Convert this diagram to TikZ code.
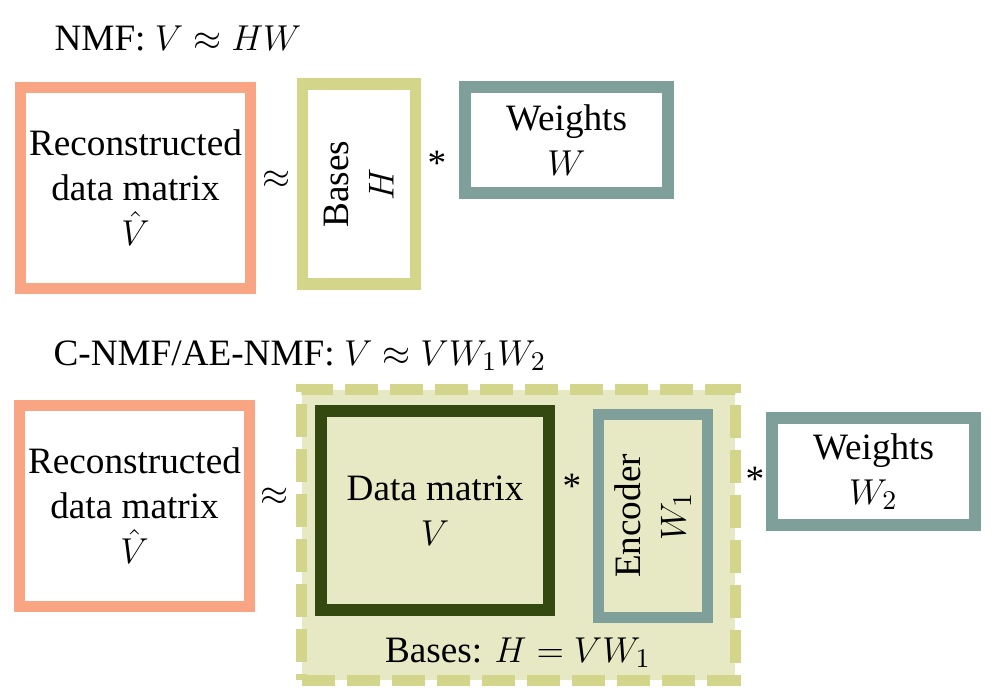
\documentclass[tikz,border=0pt]{standalone}
\usepackage{fontspec}
\setmainfont{LiberationSerif}[Extension=.ttf, UprightFont=*-Regular, BoldFont=*-Bold, ItalicFont=*-Italic]
\definecolor{salmon}{RGB}{249,164,130}
\definecolor{lime}{RGB}{211,214,138}
\definecolor{teal}{RGB}{127,160,154}
\definecolor{darkgreen}{RGB}{52,73,15}
\definecolor{lightfill}{RGB}{230,233,195}
\tikzset{
  mbox/.style={draw, line width=3.9pt, inner sep=0pt, align=center},
}
\begin{document}
\begin{tikzpicture}[x=0.3333pt,y=-0.3333pt,every node/.style={font=\fontsize{12.4}{15}\selectfont}]
\useasboundingbox (0,0) rectangle (993,695);

% NMF
\node[anchor=base west] (t1) at (44,50) {NMF: $V \approx HW$};
\node[mbox, draw=salmon, minimum width=76.67pt, minimum height=67pt] (rec1) at (135.5,188) {Reconstructed\\data matrix\\$\hat{V}$};
\node (ap1) at (277,180) {$\approx$};
\node[mbox, draw=lime, rotate=90, minimum width=66.5pt, minimum height=37.67pt] (bas) at (359,184) {Bases\\$H$};
\node (st1) at (437,163) {*};
\node[mbox, draw=teal, minimum width=67.67pt, minimum height=35.33pt] (wt1) at (566.5,140) {Weights\\$W$};

% C-NMF/AE-NMF
\node[anchor=base west] (t2) at (43,365) {C-NMF/AE-NMF: $V \approx VW_1W_2$};
\node[mbox, draw=salmon, minimum width=76.67pt, minimum height=67pt] (rec2) at (134.5,506) {Reconstructed\\data matrix\\$\hat{V}$};
\node (ap2) at (275,497) {$\approx$};
\node[draw=lime, fill=lightfill, line width=3.67pt, dash pattern=on 11pt off 4pt, minimum width=144.33pt, minimum height=96.67pt] (hb) at (518.5,535) {};
\node[mbox, draw=darkgreen, minimum width=76pt, minimum height=66.33pt] (dm) at (435,510.5) {Data matrix\\$V$};
\node (st2) at (572,486) {*};
\node[mbox, draw=teal, rotate=90, minimum width=67.67pt, minimum height=36.33pt] (enc) at (653,516) {Encoder\\$W_1$};
\node (st3) at (755,479) {*};
\node[mbox, draw=teal, minimum width=67.67pt, minimum height=35.67pt] (wt2) at (873.5,471.5) {Weights\\$W_2$};
\node[anchor=base] (hl) at (518,662) {Bases: $H = VW_1$};
\end{tikzpicture}
\end{document}
